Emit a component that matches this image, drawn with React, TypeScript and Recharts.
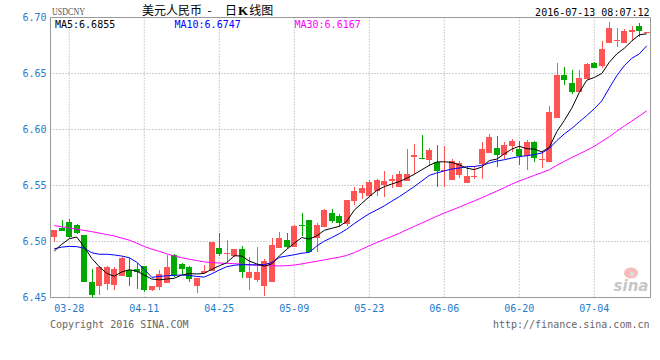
import React from 'react';
import { ComposedChart, Bar, Line, XAxis, YAxis, CartesianGrid, ReferenceArea } from 'recharts';

const DATES = [
  '03-24', '03-25', '03-28', '03-29', '03-30', '03-31', '04-01', '04-04', '04-05', '04-06',
  '04-07', '04-08', '04-11', '04-12', '04-13', '04-14', '04-15', '04-18', '04-19', '04-20',
  '04-21', '04-22', '04-25', '04-26', '04-27', '04-28', '04-29', '05-02', '05-03', '05-04',
  '05-05', '05-06', '05-09', '05-10', '05-11', '05-12', '05-13', '05-16', '05-17', '05-18',
  '05-19', '05-20', '05-23', '05-24', '05-25', '05-26', '05-27', '05-30', '05-31', '06-01',
  '06-02', '06-03', '06-06', '06-07', '06-08', '06-09', '06-10', '06-13', '06-14', '06-15',
  '06-16', '06-17', '06-20', '06-21', '06-22', '06-23', '06-24', '06-27', '06-28', '06-29',
  '06-30', '07-01', '07-04', '07-05', '07-06', '07-07', '07-08', '07-11', '07-12', '07-13',
];

const OPEN = [
  6.5042, 6.5125, 6.5170, 6.5150, 6.5058, 6.4641, 6.4600, 6.4618, 6.4612, 6.4689,
  6.4745, 6.4753, 6.4779, 6.4570, 6.4597, 6.4627, 6.4882, 6.4799, 6.4768, 6.4605,
  6.4721, 6.4734, 6.4942, 6.4890, 6.4868, 6.4933, 6.4674, 6.4659, 6.4600, 6.4641,
  6.4942, 6.5013, 6.4953, 6.5150, 6.5191, 6.5028, 6.5132, 6.5254, 6.5230, 6.5156,
  6.5363, 6.5432, 6.5408, 6.5448, 6.5506, 6.5542, 6.5489, 6.5542, 6.5756, 6.5750,
  6.5730, 6.5706, 6.5626, 6.5551, 6.5596, 6.5522, 6.5572, 6.5691, 6.5789, 6.5834,
  6.5771, 6.5854, 6.5825, 6.5760, 6.5890, 6.5727, 6.5712, 6.6102, 6.6485, 6.6411,
  6.6334, 6.6450, 6.6598, 6.6568, 6.6771, 6.6786, 6.6771, 6.6875, 6.6925, 6.6862,
];
const HIGH = [
  6.5105, 6.5191, 6.5200, 6.5156, 6.5060, 6.4754, 6.4778, 6.4780, 6.4770, 6.4860,
  6.4850, 6.4810, 6.4783, 6.4600, 6.4745, 6.4879, 6.4885, 6.4810, 6.4778, 6.4671,
  6.4790, 6.5000, 6.5075, 6.5015, 6.4935, 6.4962, 6.4859, 6.4948, 6.4843, 6.5028,
  6.5082, 6.5075, 6.5150, 6.5254, 6.5195, 6.5165, 6.5287, 6.5290, 6.5245, 6.5370,
  6.5483, 6.5506, 6.5550, 6.5557, 6.5631, 6.5593, 6.5626, 6.5825, 6.5870, 6.5948,
  6.5834, 6.5861, 6.5849, 6.5736, 6.5720, 6.5670, 6.5670, 6.5885, 6.5959, 6.5944,
  6.5890, 6.5914, 6.5899, 6.5905, 6.5895, 6.5800, 6.6211, 6.6592, 6.6559, 6.6530,
  6.6530, 6.6590, 6.6600, 6.6791, 6.6964, 6.6904, 6.6896, 6.6920, 6.6949, 6.6868,
];
const LOW = [
  6.4993, 6.5096, 6.5030, 6.5070, 6.4636, 6.4500, 6.4522, 6.4570, 6.4570, 6.4689,
  6.4600, 6.4575, 6.4546, 6.4560, 6.4568, 6.4627, 6.4680, 6.4710, 6.4640, 6.4540,
  6.4721, 6.4734, 6.4873, 6.4820, 6.4860, 6.4674, 6.4570, 6.4636, 6.4516, 6.4641,
  6.4942, 6.4940, 6.4950, 6.5051, 6.4906, 6.4903, 6.5130, 6.5162, 6.5132, 6.5140,
  6.5328, 6.5379, 6.5400, 6.5403, 6.5394, 6.5477, 6.5489, 6.5542, 6.5602, 6.5742,
  6.5676, 6.5489, 6.5489, 6.5551, 6.5566, 6.5522, 6.5557, 6.5557, 6.5789, 6.5667,
  6.5736, 6.5795, 6.5682, 6.5640, 6.5712, 6.5652, 6.5712, 6.6102, 6.6399, 6.6316,
  6.6334, 6.6450, 6.6545, 6.6548, 6.6771, 6.6741, 6.6771, 6.6800, 6.6822, 6.6862,
];
const CLOSE = [
  6.5102, 6.5096, 6.5040, 6.5073, 6.4636, 6.4525, 6.4775, 6.4775, 6.4754, 6.4852,
  6.4686, 6.4730, 6.4570, 6.4600, 6.4707, 6.4772, 6.4703, 6.4754, 6.4665, 6.4671,
  6.4736, 6.4998, 6.4888, 6.4900, 6.4933, 6.4725, 6.4730, 6.4730, 6.4828, 6.4968,
  6.5028, 6.4953, 6.5141, 6.5141, 6.4906, 6.5149, 6.5283, 6.5180, 6.5162, 6.5370,
  6.5452, 6.5477, 6.5533, 6.5548, 6.5542, 6.5557, 6.5602, 6.5602, 6.5774, 6.5742,
  6.5816, 6.5626, 6.5638, 6.5720, 6.5697, 6.5581, 6.5581, 6.5825, 6.5929, 6.5771,
  6.5861, 6.5899, 6.5765, 6.5890, 6.5742, 6.5736, 6.6158, 6.6485, 6.6443, 6.6334,
  6.6458, 6.6583, 6.6545, 6.6717, 6.6904, 6.6800, 6.6880, 6.6889, 6.6880, 6.6868,
];

const MA5 = [
  6.4915, 6.4975, 6.5025, 6.5040, 6.4950, 6.4850, 6.4775, 6.4715, 6.4690, 6.4728,
  6.4748, 6.4735, 6.4700, 6.4665, 6.4658, 6.4665, 6.4672, 6.4700, 6.4714, 6.4710,
  6.4715, 6.4752, 6.4783, 6.4810, 6.4873, 6.4870, 6.4825, 6.4800, 6.4780, 6.4800,
  6.4870, 6.4930, 6.4985, 6.5035, 6.5022, 6.5050, 6.5100, 6.5118, 6.5135, 6.5180,
  6.5280, 6.5340, 6.5400, 6.5455, 6.5490, 6.5513, 6.5535, 6.5565, 6.5600, 6.5640,
  6.5680, 6.5710, 6.5712, 6.5706, 6.5685, 6.5655, 6.5642, 6.5665, 6.5722, 6.5736,
  6.5782, 6.5825, 6.5850, 6.5828, 6.5825, 6.5800, 6.5840, 6.5980, 6.6080, 6.6190,
  6.6330, 6.6440, 6.6465, 6.6500, 6.6600, 6.6675, 6.6725, 6.6790, 6.6845, 6.6855,
];
const MA10 = [
  6.4935, 6.4950, 6.4956, 6.4954, 6.4940, 6.4900, 6.4886, 6.4886, 6.4880, 6.4870,
  6.4855, 6.4815, 6.4752, 6.4680, 6.4688, 6.4694, 6.4698, 6.4701, 6.4697, 6.4688,
  6.4682, 6.4712, 6.4745, 6.4775, 6.4788, 6.4793, 6.4792, 6.4792, 6.4793, 6.4812,
  6.4858, 6.4870, 6.4882, 6.4895, 6.4903, 6.4960, 6.5003, 6.5035, 6.5070, 6.5110,
  6.5160, 6.5205, 6.5248, 6.5282, 6.5318, 6.5360, 6.5400, 6.5445, 6.5490, 6.5540,
  6.5590, 6.5612, 6.5630, 6.5647, 6.5656, 6.5668, 6.5670, 6.5680, 6.5700, 6.5718,
  6.5730, 6.5745, 6.5758, 6.5766, 6.5776, 6.5790, 6.5830, 6.5900, 6.5960, 6.6010,
  6.6068, 6.6125, 6.6185, 6.6255, 6.6370, 6.6480, 6.6570, 6.6635, 6.6675, 6.6747,
];
const MA30 = [
  6.5142, 6.5132, 6.5120, 6.5110, 6.5099, 6.5088, 6.5075, 6.5062, 6.5050, 6.5030,
  6.5012, 6.4985, 6.4955, 6.4932, 6.4912, 6.4890, 6.4870, 6.4855, 6.4842, 6.4830,
  6.4818, 6.4812, 6.4808, 6.4805, 6.4802, 6.4798, 6.4792, 6.4788, 6.4785, 6.4783,
  6.4782, 6.4784, 6.4790, 6.4800, 6.4812, 6.4823, 6.4836, 6.4848, 6.4860, 6.4876,
  6.4900, 6.4930, 6.4962, 6.4990, 6.5018, 6.5046, 6.5073, 6.5105, 6.5135, 6.5165,
  6.5195, 6.5225, 6.5254, 6.5280, 6.5307, 6.5335, 6.5362, 6.5390, 6.5420, 6.5450,
  6.5480, 6.5512, 6.5540, 6.5565, 6.5590, 6.5615, 6.5640, 6.5680, 6.5715, 6.5750,
  6.5782, 6.5815, 6.5850, 6.5893, 6.5935, 6.5985, 6.6030, 6.6075, 6.6120, 6.6167,
];

const Y_TICKS = [6.45, 6.5, 6.55, 6.6, 6.65, 6.7];
const X_TICKS = ['03-28', '04-11', '04-25', '05-09', '05-23', '06-06', '06-20', '07-04'];
const MA_LABELS = ['MA5:6.6855', 'MA10:6.6747', 'MA30:6.6167'];
const SYMBOL = 'USDCNY';
const TITLE_A = '美元人民币';
const TITLE_B1 = '日';
const TITLE_K = 'K';
const TITLE_B2 = '线图';
const TIMESTAMP = '2016-07-13 08:07:12';
const COPYRIGHT = 'Copyright 2016 SINA.COM';
const URL = 'http://finance.sina.com.cn';

const RED = '#ff5454';
const GREEN = '#00a800';
const AXIS_BLUE = '#1f7bcb';
const MONO = '"DejaVu Sans Mono", "Liberation Mono", monospace';
const CJK = '"Noto Sans CJK SC", sans-serif';

const data = DATES.map((d, i) => ({
  date: d,
  open: OPEN[i],
  high: HIGH[i],
  low: LOW[i],
  close: CLOSE[i],
  range: [LOW[i], HIGH[i]],
  ma5: MA5[i],
  ma10: MA10[i],
  ma30: MA30[i],
}));

const Candle = (props: any) => {
  const { x, y, width, height, payload } = props;
  if (!payload || x == null || y == null) return null;
  const { open, close, high, low } = payload;
  const up = close >= open;
  const color = up ? RED : GREEN;
  const span = high - low;
  const ratio = span > 0 ? height / span : 0;
  const yOf = (v: number) => y + (high - v) * ratio;
  const rx = Math.floor(x);
  const w = Math.round(width);
  const top = Math.round(yOf(Math.max(open, close)));
  const bot = Math.round(yOf(Math.min(open, close)));
  const bodyH = Math.max(1, bot - top);
  const cx = rx + Math.floor(w / 2) + 0.5;
  const wy1 = Math.round(y);
  const wy2 = Math.round(y + height);
  return (
    <g>
      {wy2 > wy1 && <line x1={cx} x2={cx} y1={wy1} y2={wy2} stroke={color} strokeWidth={1} />}
      <rect x={rx} y={top} width={w} height={bodyH} fill={color} />
    </g>
  );
};

export default function App() {
  return (
    <div style={{ position: 'absolute', left: 0, top: 0, width: 660, height: 360, background: '#fff' }}>
      <ComposedChart
        width={660}
        height={360}
        data={data}
        margin={{ top: 17.5, right: 9.5, bottom: 42.5, left: 0.5 }}
      >
        <CartesianGrid stroke="#a0a0a0" strokeDasharray="1 2" />
        <XAxis
          dataKey="date"
          ticks={X_TICKS}
          interval={0}
          axisLine={false}
          tickLine={false}
          tickSize={0}
          tickMargin={7}
          height={20}
          tick={{ fill: AXIS_BLUE, fontSize: 10, fontFamily: MONO }}
        />
        <YAxis
          type="number"
          domain={[6.45, 6.7]}
          ticks={Y_TICKS}
          interval={0}
          width={50}
          axisLine={false}
          tickLine={false}
          tickSize={0}
          tickMargin={4}
          tickFormatter={(v: number) => v.toFixed(2)}
          tick={{ fill: AXIS_BLUE, fontSize: 10, fontFamily: MONO }}
        />
        <Bar dataKey="range" barSize={6} shape={<Candle />} isAnimationActive={false} />
        <Line type="linear" dataKey="ma30" stroke="#ff00ff" strokeWidth={1} dot={false} activeDot={false} isAnimationActive={false} />
        <Line type="linear" dataKey="ma10" stroke="#0000ff" strokeWidth={1} dot={false} activeDot={false} isAnimationActive={false} />
        <Line type="linear" dataKey="ma5" stroke="#000000" strokeWidth={1} dot={false} activeDot={false} isAnimationActive={false} />
        <ReferenceArea y1={6.45} y2={6.7} fill="none" fillOpacity={0} stroke="#9a9a9a" strokeWidth={1} />
      </ComposedChart>
      <svg
        width={660}
        height={360}
        style={{ position: 'absolute', left: 0, top: 0, pointerEvents: 'none' }}
      >
        <text x={52} y={15} fontFamily='"Liberation Serif", serif' fontSize={11} fill="#555" textLength={33} lengthAdjust="spacingAndGlyphs">
          {SYMBOL}
        </text>
        <text x={142} y={14.5} fontFamily={CJK} fontSize={12} fill="#000">
          {TITLE_A}
        </text>
        <text x={207.5} y={14.5} fontFamily={CJK} fontSize={12} fill="#000">
          -
        </text>
        <text x={225} y={14.5} fontFamily={CJK} fontSize={12} fill="#000">
          <tspan>{TITLE_B1}</tspan>
          <tspan dx={1} fontWeight="bold" fontFamily='"Liberation Serif", serif' fontSize={13}>{TITLE_K}</tspan>
          <tspan dx={1}>{TITLE_B2}</tspan>
        </text>
        <text x={649.5} y={15.5} textAnchor="end" fontFamily={MONO} fontSize={10} fill="#000">
          {TIMESTAMP}
        </text>
        <text x={55} y={28} fontFamily={MONO} fontSize={10} fill="#000">
          {MA_LABELS[0]}
        </text>
        <text x={174.5} y={28} fontFamily={MONO} fontSize={10} fill="#0000ff">
          {MA_LABELS[1]}
        </text>
        <text x={294.5} y={28} fontFamily={MONO} fontSize={10} fill="#ff00ff">
          {MA_LABELS[2]}
        </text>
        <text x={50} y={328} fontFamily={MONO} fontSize={10} fill="#666">
          {COPYRIGHT}
        </text>
        <text x={649.5} y={328} textAnchor="end" fontFamily={MONO} fontSize={10} fill="#666">
          {URL}
        </text>
        <g opacity={0.85}>
          <ellipse cx={631} cy={273} rx={7} ry={5.5} fill="#f8b0b0" />
          <circle cx={632} cy={274} r={2.2} fill="#d9d9d9" />
          <text x={631} y={291} textAnchor="middle" fontFamily='"DejaVu Sans", sans-serif' fontStyle="italic" fontWeight="bold" fontSize={15} fill="#bdbdbd">
            sina
          </text>
        </g>
      </svg>
    </div>
  );
}
